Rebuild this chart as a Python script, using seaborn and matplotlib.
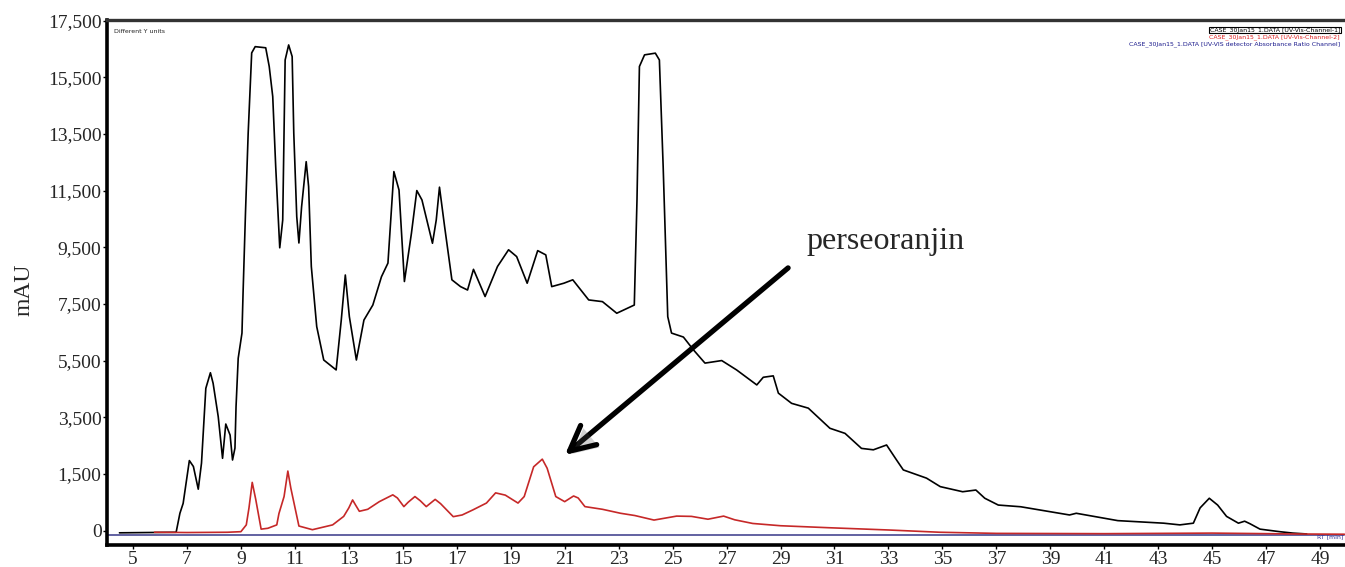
import numpy as np
import pandas as pd
import seaborn as sns
import matplotlib.pyplot as plt
import matplotlib.patheffects as pe

# Chromatogram traces (retention time in min, signal in mAU axis units)
ch1_rt = [4.5, 6.6, 6.74, 6.86, 7.09, 7.24, 7.42, 7.54, 7.7, 7.87, 7.97, 8.16, 8.32, 8.44, 8.6,
          8.69, 8.78, 8.82, 8.9, 9.04, 9.08, 9.17, 9.27, 9.4, 9.53, 9.92, 10.05, 10.18, 10.29,
          10.44, 10.55, 10.64, 10.77, 10.9, 10.96, 11.07, 11.15, 11.25, 11.42, 11.51, 11.61,
          11.81, 12.07, 12.53, 12.72, 12.87, 13.02, 13.28, 13.56, 13.89, 14.21, 14.45, 14.67,
          14.86, 15.06, 15.32, 15.52, 15.71, 16.1, 16.24, 16.36, 16.55, 16.82, 17.14, 17.4,
          17.62, 18.05, 18.51, 18.92, 19.22, 19.61, 20.0, 20.3, 20.52, 20.97, 21.3, 21.89,
          22.4, 22.93, 23.58, 23.68, 23.77, 23.96, 24.36, 24.51, 24.65, 24.82, 24.96, 25.4,
          25.77, 26.2, 26.82, 27.37, 28.12, 28.36, 28.73, 28.92, 29.41, 30.03, 30.83, 31.39,
          32.0, 32.44, 32.93, 33.3, 33.55, 34.41, 34.92, 35.75, 36.24, 36.57, 37.07, 37.9,
          39.71, 39.96, 41.5, 43.2, 43.8, 44.3, 44.55, 44.89, 45.2, 45.53, 45.97, 46.2, 46.4,
          46.77, 47.5, 47.99, 48.5]
ch1_mau = [-580, -560, 110, 460, 1970, 1760, 960, 1880, 4520, 5070, 4700, 3520, 2050, 3260, 2870,
           1990, 2410, 3870, 5580, 6470, 7870, 10710, 13530, 16360, 16580, 16540, 15880, 14820,
           12350, 9480, 10460, 16110, 16640, 16230, 13530, 10580, 9650, 10930, 12520, 11640,
           8820, 6700, 5520, 5170, 6930, 8520, 7050, 5520, 6930, 7460, 8460, 8940, 12170, 11520,
           8290, 9990, 11500, 11170, 9640, 10460, 11620, 10230, 8350, 8110, 7990, 8720, 7760,
           8820, 9410, 9170, 8230, 9380, 9230, 8110, 8230, 8350, 7640, 7580, 7170, 7460, 11170,
           15880, 16290, 16350, 16110, 12350, 7050, 6470, 6330, 5880, 5410, 5500, 5170, 4640,
           4910, 4960, 4350, 3990, 3820, 3110, 2930, 2400, 2350, 2520, 1990, 1640, 1350, 1050,
           870, 930, 640, 400, 340, 50, 110, -150, -240, -300, -240, 300, 640, 400, 0, -240,
           -170, -260, -450, -540, -590, -620]

ch2_rt = [5.8, 7.0, 8.5, 9.0, 9.2, 9.3, 9.42, 9.55, 9.75, 10.0, 10.33, 10.41, 10.6, 10.74, 10.85,
          11.15, 11.65, 12.4, 12.81, 13.0, 13.14, 13.25, 13.39, 13.7, 14.13, 14.4, 14.63, 14.8,
          15.04, 15.2, 15.45, 15.65, 15.87, 16.2, 16.4, 16.87, 17.2, 17.6, 18.1, 18.44, 18.8,
          19.27, 19.5, 19.85, 20.17, 20.35, 20.67, 21.0, 21.33, 21.5, 21.75, 22.4, 23.07, 23.6,
          24.31, 25.15, 25.7, 26.31, 26.89, 27.3, 27.97, 29.0, 30.78, 33.0, 34.9, 37.0, 41.0,
          45.0, 48.0, 49.9]
ch2_mau = [-560, -570, -560, -540, -300, 300, 1200, 600, -450, -420, -300, 100, 700, 1600, 1000,
           -340, -470, -300, 0, 300, 580, 400, 180, 250, 520, 650, 760, 650, 345, 500, 700, 550,
           345, 600, 450, -10, 50, 230, 470, 830, 750, 470, 700, 1750, 2020, 1700, 700, 520,
           720, 650, 345, 250, 110, 30, -130, 10, 0, -100, 10, -120, -250, -330, -400, -480,
           -560, -600, -610, -590, -620, -630]

ratio_rt = [4.04, 49.9]
ratio_mau = [-640, -640]

ytick_vals = [-500, 1500, 3500, 5500, 7500, 9500, 11500, 13500, 15500, 17500]
ytick_labels = ['0', '1,500', '3,500', '5,500', '7,500', '9,500', '11,500', '13,500', '15,500', '17,500']
xtick_vals = list(range(5, 50, 2))

legend_lines = ['CASE_30Jan15_1.DATA [UV-Vis-Channel-1]',
                'CASE_30Jan15_1.DATA [UV-Vis-Channel-2]',
                'CASE_30Jan15_1.DATA [UV-VIS detector Absorbance Ratio Channel]']

sns.set_style('white')
plt.rcParams['font.family'] = ['Liberation Serif', 'DejaVu Serif']

fig = plt.figure(figsize=(13.45, 5.67), dpi=100)
ax = fig.add_axes([0.0796, 0.0388, 0.9204, 0.9259])

sns.lineplot(x=ratio_rt, y=ratio_mau, color='#55559a', lw=1.3, estimator=None, ax=ax)
sns.lineplot(x=ch1_rt, y=ch1_mau, color='black', lw=1.2, estimator=None, sort=False, ax=ax)
sns.lineplot(x=ch2_rt, y=ch2_mau, color='#c62828', lw=1.2, estimator=None, sort=False, ax=ax)

ax.set_xlim(4.04, 49.92)
ax.set_ylim(-1010, 17520)
ax.set_xticks(xtick_vals)
ax.set_xticklabels([str(v) for v in xtick_vals], fontsize=14)
ax.set_yticks(ytick_vals)
ax.set_yticklabels(ytick_labels, fontsize=14)
ax.tick_params(axis='both', direction='out', length=3, width=1, pad=1, color='black')
ax.tick_params(axis='y', left=True)
ax.tick_params(axis='x', bottom=True)

for side in ['left', 'bottom']:
    ax.spines[side].set_linewidth(2.6)
    ax.spines[side].set_color('black')
ax.spines['top'].set_linewidth(2.4)
ax.spines['top'].set_color('#333333')
ax.spines['right'].set_visible(False)

ax.set_ylabel('mAU', fontsize=17)
ax.yaxis.set_label_coords(-0.059, 0.486)
ax.set_xlabel('')

# small instrument-software labels
ax.text(0.006, 0.978, 'Different Y units', transform=ax.transAxes, fontsize=4.5,
        family='DejaVu Sans', ha='left', va='center', color='#222222')
ax.text(0.996, 0.981, legend_lines[0], transform=ax.transAxes, fontsize=4.5, family='DejaVu Sans',
        ha='right', va='center', color='black',
        bbox=dict(boxstyle='square,pad=0.1', fc='none', ec='black', lw=0.8))
ax.text(0.996, 0.968, legend_lines[1], transform=ax.transAxes, fontsize=4.5, family='DejaVu Sans',
        ha='right', va='center', color='#e02020')
ax.text(0.996, 0.954, legend_lines[2], transform=ax.transAxes, fontsize=4.5, family='DejaVu Sans',
        ha='right', va='center', color='#1a1a8c')
ax.text(0.977, 0.016, 'RT [min]', transform=ax.transAxes, fontsize=4.5, family='DejaVu Sans',
        ha='left', va='center', color='#333399')

# annotation
ax.text(29.95, 9690, 'perseoranjin', fontsize=23, ha='left', va='center')
ax.annotate('', xy=(21.01, 2170), xytext=(29.28, 8770),
            arrowprops=dict(arrowstyle='->,head_length=0.9,head_width=0.45', lw=3.8,
                            color='black', mutation_scale=20, shrinkA=0, shrinkB=0,
                            path_effects=[pe.SimplePatchShadow(offset=(2, -2), alpha=0.25),
                                          pe.Normal()]))

fig.savefig('out.png', dpi=100)
